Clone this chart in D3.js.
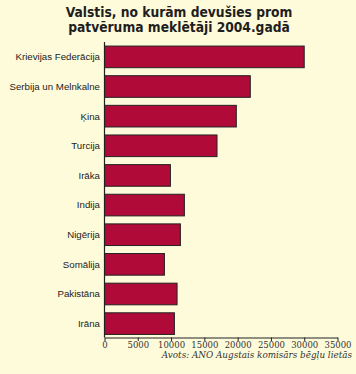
<!DOCTYPE html>
<html><head><meta charset="utf-8">
<script src="https://cdn.jsdelivr.net/npm/d3@7"></script>
<style>html,body{margin:0;padding:0;background:#FEFBDA;}svg{display:block;}</style>
</head><body>
<script>
const categories = ["Krievijas Federācija","Serbija un Melnkalne","Ķina","Turcija","Irāka","Indija","Nigērija","Somālija","Pakistāna","Irāna"];
const values = [30000,21900,19800,16900,9900,12000,11400,9000,10900,10500];
const tickValues = [0,5000,10000,15000,20000,25000,30000,35000];
const titleLines = ["Valstis, no kurām devušies prom","patvēruma meklētāji 2004.gadā"];
const source = "Avots: ANO Augstais komisārs bēgļu lietās";

const W=356,H=374;
const svg=d3.select("body").append("svg").attr("width",W).attr("height",H);
svg.append("rect").attr("width",W).attr("height",H).attr("fill","#FEFBDA");

const x=d3.scaleLinear().domain([0,35000]).range([104.5,337.5]);
const y=d3.scaleBand().domain(categories).range([42.5,338]).paddingInner(0.27).paddingOuter(0.12);

svg.selectAll("text.title").data(titleLines).join("text")
  .attr("x",179).attr("y",(d,i)=>17+i*15)
  .attr("text-anchor","middle")
  .style("font-family","'Liberation Sans Narrow','DejaVu Sans Condensed',sans-serif")
  .style("font-weight","bold").style("font-size","13.7px").attr("fill","#1e1e1e")
  .text(d=>d);

svg.selectAll("rect.bar").data(values).join("rect")
  .attr("x",x(0)).attr("y",(d,i)=>y(categories[i]))
  .attr("width",d=>x(d)-x(0)).attr("height",y.bandwidth())
  .attr("fill","#B00A38").attr("stroke","#222").attr("stroke-width",1);

svg.selectAll("text.cat").data(categories).join("text")
  .attr("x",100).attr("y",d=>y(d)+y.bandwidth()/2)
  .attr("dy","0.35em").attr("text-anchor","end")
  .style("font-family","'Liberation Sans',Arial,sans-serif").style("font-size","9.7px")
  .attr("fill","#222").text(d=>d);

svg.append("line").attr("x1",x(0)).attr("x2",x(0)).attr("y1",42).attr("y2",337.5)
  .attr("stroke","#222").attr("stroke-width",1.2);

const xAxis=d3.axisBottom(x).tickValues(tickValues).tickSize(3.5).tickSizeOuter(0).tickPadding(1).tickFormat(d3.format("d"));
const g=svg.append("g").attr("transform","translate(0,337.5)").call(xAxis);
g.select(".domain").attr("stroke","#222").attr("stroke-width",1.2);
g.selectAll(".tick line").attr("stroke","#222");
g.selectAll(".tick text").attr("fill","#333")
  .style("font-family","'DejaVu Serif',serif").style("font-size","8.5px");

svg.append("text").attr("x",352).attr("y",358).attr("text-anchor","end")
  .style("font-family","'DejaVu Serif',serif").style("font-style","italic").style("font-size","8.8px")
  .attr("fill","#333").text(source);
</script>
</body></html>
